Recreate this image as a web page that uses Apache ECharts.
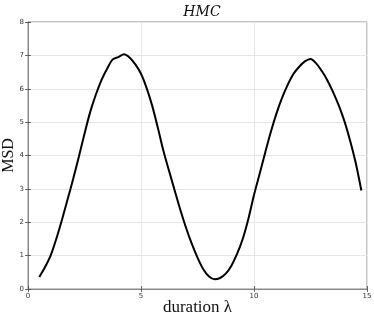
<!DOCTYPE html>
<html><head><meta charset="utf-8">
<script src="https://cdn.jsdelivr.net/npm/echarts@6/dist/echarts.min.js"></script>
<style>html,body{margin:0;padding:0;background:#fff}#c{width:374px;height:318px}</style>
</head><body><div id="c"></div>
<script>
const durations = [0.5,0.75,1.0,1.25,1.5,1.75,2.0,2.25,2.5,2.75,3.0,3.25,3.5,3.75,4.0,4.25,4.5,4.75,5.0,5.25,5.5,5.75,6.0,6.25,6.5,6.75,7.0,7.25,7.5,7.75,8.0,8.25,8.5,8.75,9.0,9.25,9.5,9.75,10.0,10.25,10.5,10.75,11.0,11.25,11.5,11.75,12.0,12.25,12.5,12.75,13.0,13.25,13.5,13.75,14.0,14.25,14.5,14.75];
const msd = [0.36,0.65,1.0,1.5,2.07,2.68,3.3,3.96,4.65,5.3,5.82,6.26,6.6,6.88,6.95,7.03,6.93,6.73,6.45,6.02,5.48,4.82,4.12,3.52,2.93,2.35,1.82,1.35,0.94,0.6,0.38,0.29,0.33,0.46,0.7,1.05,1.5,2.1,2.82,3.45,4.1,4.72,5.27,5.74,6.13,6.45,6.66,6.82,6.89,6.76,6.53,6.25,5.9,5.5,5.03,4.45,3.78,2.95];
const xTicks = [0,5,10,15];
const yTicks = [0,1,2,3,4,5,6,7,8];

const chart = echarts.init(document.getElementById('c'));
const serif = '"Liberation Serif","DejaVu Serif",serif';
const tickStyle = {show:true, inside:true, length:3, lineStyle:{color:'#444', width:0.8}};
chart.setOption({
  animation:false,
  title:{text:'HMC', left:197, top:0, textAlign:'center',
    textStyle:{fontFamily:'"DejaVu Serif",serif', fontStyle:'italic', fontWeight:'normal', fontSize:14, color:'#111'}},
  grid:{left:28, right:7, top:22, bottom:29, show:true, borderColor:'#888', borderWidth:1,
    containLabel:false, outerBoundsMode:'none'},
  xAxis:[{type:'value', min:xTicks[0], max:xTicks[xTicks.length-1], interval:5,
    name:'duration λ', nameLocation:'middle', nameGap:10, nameMoveOverlap:false,
    nameTextStyle:{fontFamily:serif, fontSize:17, color:'#111', verticalAlign:'top'},
    axisLine:{lineStyle:{color:'#888'}}, axisTick:tickStyle,
    axisLabel:{fontSize:7, color:'#333', margin:4, fontFamily:'"DejaVu Sans",sans-serif'},
    splitLine:{show:true, lineStyle:{color:'#e6e6e6', width:1}}},
   {type:'value', position:'top', min:0, max:15, interval:5,
    axisLine:{show:true, lineStyle:{color:'#888'}}, axisTick:tickStyle, axisLabel:{show:false}, splitLine:{show:false}}],
  yAxis:[{type:'value', min:yTicks[0], max:yTicks[yTicks.length-1], interval:1,
    name:'MSD', nameLocation:'middle', nameGap:11, nameMoveOverlap:false,
    nameTextStyle:{fontFamily:serif, fontSize:16, color:'#111'},
    axisLine:{show:true, lineStyle:{color:'#888'}}, axisTick:tickStyle,
    axisLabel:{fontSize:7, color:'#333', margin:4, fontFamily:'"DejaVu Sans",sans-serif'},
    splitLine:{show:true, lineStyle:{color:'#e6e6e6', width:1}}},
   {type:'value', position:'right', min:0, max:8, interval:1,
    axisLine:{show:true, lineStyle:{color:'#888'}}, axisTick:tickStyle, axisLabel:{show:false}, splitLine:{show:false}}],
  series:[{type:'line', data:durations.map((d,i)=>[d,msd[i]]), showSymbol:false, smooth:0.3,
    lineStyle:{color:'#000', width:2}, xAxisIndex:0, yAxisIndex:0}]
});
</script></body></html>
